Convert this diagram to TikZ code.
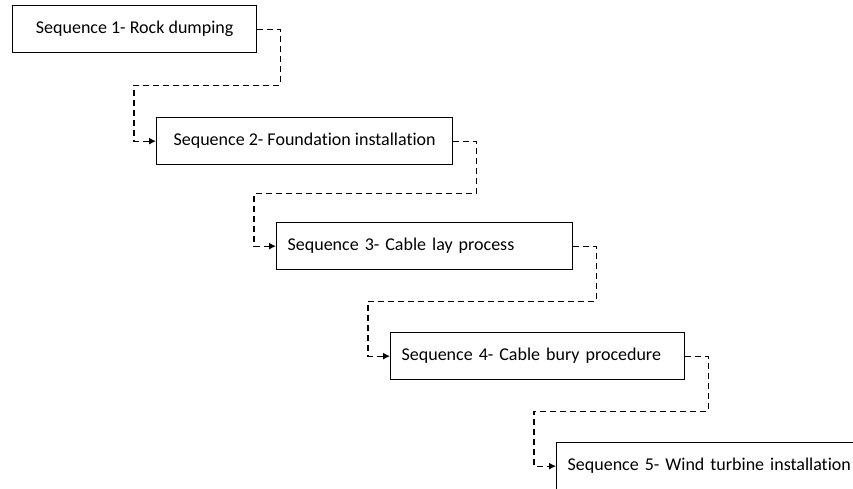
\documentclass[tikz,border=0pt]{standalone}
\usepackage{fontspec}
\setmainfont[Ligatures=CommonOff]{Carlito}
\usepackage{tikz}
\usetikzlibrary{arrows.meta,positioning,calc}
\tikzset{
  stepbox/.style={draw=black, line width=1.3pt, align=left, inner xsep=11pt, inner ysep=2pt, minimum height=47pt, font=\fontsize{18}{22}\selectfont},
  link/.style={-{Latex[length=7pt,width=7pt]}, line width=1.2pt, dash pattern=on 6pt off 4pt}
}
\begin{document}
\begin{tikzpicture}
\useasboundingbox (0,0) rectangle (853pt,-488pt);
\clip (0,0) rectangle (853pt,-488pt);
\node[stepbox, anchor=north west, minimum width=244pt] (s1) at (12pt,-5pt) {Sequence 1- Rock dumping};
\node[stepbox, anchor=north west, minimum width=296pt] (s2) at (156pt,-117pt) {Sequence 2- Foundation installation};
\node[stepbox, anchor=north west, text width=274pt] (s3) at (276pt,-222pt) {Sequence 3- Cable lay process};
\node[stepbox, anchor=north west, text width=272pt] (s4) at (390pt,-332pt) {Sequence 4- Cable bury procedure};
\node[stepbox, anchor=north west, text width=310pt] (s5) at (556pt,-442pt) {Sequence 5- Wind turbine installation};
% dashed steps between the boxes
\foreach \a/\b in {s1/s2,s2/s3,s3/s4,s4/s5} {
  \coordinate (m) at ($(\a.south)!.5!(\b.north)$);
  \draw[link] (\a.east) -- ++(23pt,0) |- (m) -| ([xshift=-22pt]\b.west) -- (\b.west);
}
\end{tikzpicture}
\end{document}
